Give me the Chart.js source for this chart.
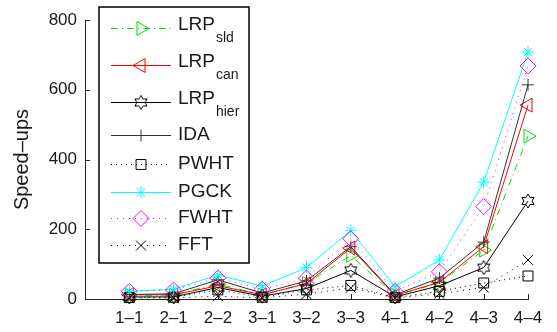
<!DOCTYPE html>
<html>
<head>
<meta charset="utf-8">
<script src="https://cdn.jsdelivr.net/npm/chart.js@4"></script>
<style>
html, body { margin: 0; padding: 0; background: #fff; }
</style>
</head>
<body>
<canvas id="chart" width="557" height="332"></canvas>
<script>
// chart data
const categories = ['1–1', '2–1', '2–2', '3–1', '3–2', '3–3', '4–1', '4–2', '4–3', '4–4'];
const yTicks = [0, 200, 400, 600, 800];

const lrpSld  = [10, 12, 43, 12, 45, 125, 10, 46, 140, 467];
const lrpCan  = [12, 12, 38, 12, 44, 146, 10, 48, 150, 556];
const lrpHier = [6, 6, 33, 8, 30, 82, 6, 38, 90, 281];
const ida     = [13, 15, 55, 17, 52, 150, 12, 60, 163, 614];
const pwht    = [4, 5, 26, 5, 26, 39, 4, 22, 46, 66];
const pgck    = [22, 28, 69, 37, 90, 196, 35, 112, 335, 708];
const fwht    = [22, 26, 60, 28, 60, 173, 22, 78, 265, 668];
const fft     = [3, 3, 8, 3, 14, 32, 3, 15, 33, 112];

const FONT = '"Liberation Sans", Arial, Helvetica, sans-serif';

// hexagram marker (matlab 'h')
function makeHexagram(r) {
    let c = document.createElement('canvas');
    let s = Math.ceil(r * 2 + 4);
    c.width = s; c.height = s;
    let g = c.getContext('2d');
    g.strokeStyle = '#000';
    g.lineWidth = 1;
    g.beginPath();
    for (let k = 0; k < 12; k++) {
        let a = -Math.PI / 2 + k * Math.PI / 6;
        let rr = (k % 2 == 0) ? r : r / Math.sqrt(3);
        let px = s / 2 + rr * Math.cos(a), py = s / 2 + rr * Math.sin(a);
        if (k == 0) g.moveTo(px, py); else g.lineTo(px, py);
    }
    g.closePath();
    g.stroke();
    return c;
}
const hexagram = makeHexagram(7);

function toPoints(arr) {
    return arr.map((v, i) => ({ x: i + 1, y: v }));
}

function series(label, sub, values, color, dash, style, radius, rotation) {
    return {
        label: label,
        sub: sub,
        data: toPoints(values),
        borderColor: color,
        borderWidth: 1,
        borderDash: dash,
        pointStyle: style,
        pointRadius: radius,
        pointRotation: rotation || 0,
        pointBorderColor: color,
        pointBorderWidth: 1,
        pointBackgroundColor: 'transparent',
        clip: false,
        tension: 0
    };
}

const datasets = [
    series('LRP', 'sld', lrpSld, '#00e000', [7, 4, 1, 4], 'triangle', 8, 90),
    series('LRP', 'can', lrpCan, '#ff0000', [], 'triangle', 8, -90),
    series('LRP', 'hier', lrpHier, '#000000', [], hexagram, 7),
    series('IDA', '', ida, '#333333', [], 'cross', 6),
    series('PWHT', '', pwht, '#000000', [1, 4], 'rect', 7),
    series('PGCK', '', pgck, '#00ffff', [], 'star', 6),
    series('FWHT', '', fwht, '#ff00ff', [1, 5], 'rectRot', 8),
    series('FFT', '', fft, '#000000', [1, 5], 'crossRot', 7)
];
datasets.forEach((d, i) => { d.order = datasets.length - i; });

// matlab style inward tick marks
const inwardTicks = {
    id: 'inwardTicks',
    afterDraw(chart) {
        const ctx = chart.ctx;
        const xs = chart.scales.x, ys = chart.scales.y;
        const a = chart.chartArea;
        ctx.save();
        ctx.strokeStyle = '#222';
        ctx.lineWidth = 1;
        ctx.beginPath();
        yTicks.forEach(v => {
            let py = Math.round(ys.getPixelForValue(v)) + 0.5;
            ctx.moveTo(a.left, py);
            ctx.lineTo(a.left + 5, py);
        });
        categories.forEach((c, i) => {
            let px = Math.round(xs.getPixelForValue(i + 1)) + 0.5;
            ctx.moveTo(px, a.bottom);
            ctx.lineTo(px, a.bottom - 5);
        });
        ctx.stroke();
        ctx.restore();
    }
};

// legend box with subscripts
const rowY = [28, 65, 102, 135, 164, 192, 218, 245];
const legendBox = {
    id: 'legendBox',
    afterDatasetsDraw(chart) {
        const ctx = chart.ctx;
        ctx.save();
        ctx.fillStyle = '#fff';
        ctx.fillRect(99, 7, 150, 256);
        ctx.strokeStyle = '#000';
        ctx.lineWidth = 1.5;
        ctx.strokeRect(99, 7, 150, 256);
        chart.data.datasets.forEach((ds, i) => {
            let y = rowY[i];
            ctx.save();
            ctx.strokeStyle = ds.borderColor;
            ctx.lineWidth = 1;
            ctx.setLineDash(ds.borderDash);
            ctx.beginPath();
            ctx.moveTo(111, y + 0.5);
            ctx.lineTo(171, y + 0.5);
            ctx.stroke();
            ctx.setLineDash([]);
            ctx.fillStyle = 'transparent';
            Chart.helpers.drawPoint(ctx, {
                pointStyle: ds.pointStyle,
                rotation: ds.pointRotation,
                radius: ds.pointRadius,
                borderWidth: 1
            }, 141, y + 0.5);
            ctx.restore();
            ctx.fillStyle = '#1a1a1a';
            ctx.textBaseline = 'middle';
            ctx.textAlign = 'left';
            ctx.font = '19px ' + FONT;
            let ty = ds.sub ? y - 3 : y;
            ctx.fillText(ds.label, 178, ty);
            if (ds.sub) {
                let w = ctx.measureText(ds.label).width;
                ctx.font = '14px ' + FONT;
                ctx.fillText(ds.sub, 178 + w + 1, y + 10);
            }
        });
        ctx.restore();
    }
};

const ctx = document.getElementById('chart').getContext('2d');
const chart = new Chart(ctx, {
    type: 'line',
    data: { datasets: datasets },
    options: {
        responsive: false,
        animation: false,
        layout: { padding: { left: 0, right: 29, top: 20, bottom: 0 } },
        plugins: {
            legend: { display: false },
            tooltip: { enabled: false }
        },
        scales: {
            x: {
                type: 'linear',
                min: 0,
                max: categories.length,
                grid: { display: false, drawTicks: false },
                border: { display: true, color: '#222', width: 1 },
                afterBuildTicks: (scale) => {
                    scale.ticks = categories.map((c, i) => ({ value: i + 1 }));
                },
                afterFit: (scale) => { scale.height = 33; },
                ticks: {
                    autoSkip: false,
                    maxRotation: 0,
                    padding: 9,
                    color: '#1a1a1a',
                    font: { family: FONT, size: 17 },
                    callback: (v) => categories[v - 1] || ''
                }
            },
            y: {
                min: 0,
                max: 800,
                grid: { display: false, drawTicks: false },
                border: { display: true, color: '#222', width: 1 },
                afterBuildTicks: (scale) => {
                    scale.ticks = yTicks.map(v => ({ value: v }));
                },
                afterFit: (scale) => { scale.width = 85; },
                ticks: {
                    padding: 8,
                    color: '#1a1a1a',
                    font: { family: FONT, size: 17 }
                },
                title: {
                    display: true,
                    text: 'Speed–ups',
                    color: '#1a1a1a',
                    font: { family: FONT, size: 20 },
                    padding: { top: 10, bottom: 0 }
                }
            }
        }
    },
    plugins: [inwardTicks, legendBox]
});
</script>
</body>
</html>
